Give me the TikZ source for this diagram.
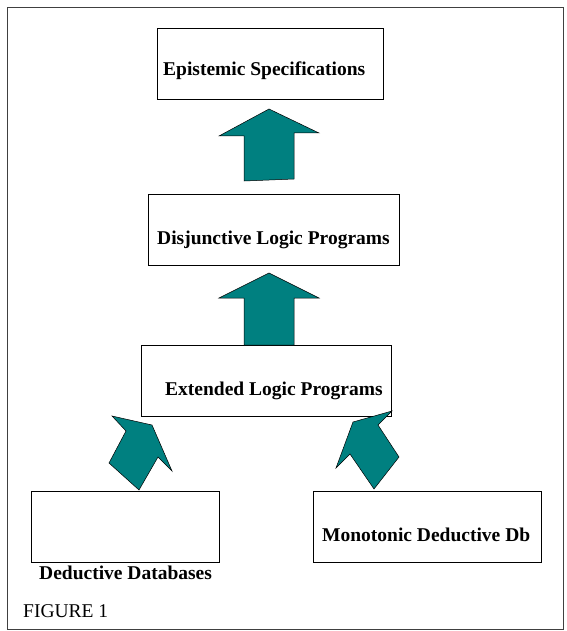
\documentclass[tikz,border=0pt]{standalone}
\usepackage{fontspec}
\setmainfont{Liberation Serif}
\usepackage{tikz}
\definecolor{arrowteal}{RGB}{0,128,128}

\begin{document}
\begin{tikzpicture}[x=1pt,y=-1pt,
    box/.style={draw=black, line width=0.8pt, fill=white, inner sep=0pt, outer sep=0pt, anchor=north west},
    lbl/.style={inner sep=0pt, anchor=base west, font=\fontsize{19.5}{22}\selectfont\bfseries},
    blockarrow/.style={fill=arrowteal, draw=black, line width=0.5pt, line join=miter}]
  \useasboundingbox (0,0) rectangle (566,631);
  \draw[black!75, line width=0.9pt] (7,7) rectangle (563,629);
  % boxes
  \node[box, minimum width=226pt, minimum height=71pt] (spec) at (157,28) {};
  \node[box, minimum width=251pt, minimum height=71pt] (disj) at (148,194) {};
  \node[box, minimum width=250pt, minimum height=71pt] (ext) at (141,345) {};
  \node[box, minimum width=188pt, minimum height=71pt] (ddb) at (31,491) {};
  \node[box, minimum width=228pt, minimum height=71pt] (mono) at (313,491) {};
  % labels
  \node[lbl] (spectext) at (163,76) {Epistemic Specifications};
  \node[lbl] (disjtext) at (157,244) {Disjunctive Logic Programs};
  \node[lbl] (exttext) at (165,395) {Extended Logic Programs};
  \node[lbl] (monotext) at (322,541) {Monotonic Deductive Db};
  \node[lbl] (ddbtext) at (39,579) {Deductive Databases};
  \node[lbl, font=\fontsize{19.5}{22}\selectfont] (figtext) at (23,617) {FIGURE 1};
  % block arrows
  \draw[blockarrow] (269,109) -- (319,133) -- (294,133) -- (294,179) -- (244,181) -- (244,136) -- (219,136) -- cycle;
  \draw[blockarrow] (269,273) -- (319,298) -- (294,298) -- (294,345) -- (244,345) -- (244,298) -- (219,298) -- cycle;
  \draw[blockarrow] (112,416) -- (152,425) -- (172,471) -- (158,457) -- (139,490) -- (109,463) -- (126,431) -- cycle;
  \draw[blockarrow] (392,411) -- (353,422) -- (336,468) -- (350,454) -- (374,489) -- (399,457) -- (378,425) -- cycle;
\end{tikzpicture}
\end{document}
